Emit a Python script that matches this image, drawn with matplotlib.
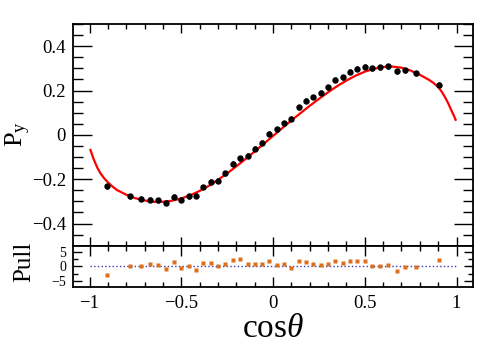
import numpy as np
import matplotlib
matplotlib.use('Agg')
import matplotlib.pyplot as plt
from matplotlib.ticker import MultipleLocator

#podaci - tocke (cos theta, P_y)
cos_x = [-0.905, -0.778, -0.722, -0.673, -0.629, -0.585, -0.542, -0.500, -0.459, -0.419,
         -0.379, -0.339, -0.299, -0.259, -0.219, -0.179, -0.139, -0.099, -0.060, -0.020,
         0.020, 0.060, 0.100, 0.140, 0.180, 0.220, 0.260, 0.300, 0.340, 0.380,
         0.420, 0.460, 0.500, 0.542, 0.585, 0.629, 0.673, 0.722, 0.778, 0.905]
py_vals = [-0.232, -0.277, -0.289, -0.292, -0.295, -0.306, -0.280, -0.292, -0.277, -0.274,
           -0.235, -0.212, -0.206, -0.174, -0.130, -0.105, -0.095, -0.062, -0.036, 0.005,
           0.025, 0.053, 0.072, 0.124, 0.153, 0.171, 0.190, 0.214, 0.249, 0.260,
           0.285, 0.299, 0.308, 0.300, 0.305, 0.310, 0.286, 0.292, 0.277, 0.226]
py_err = 0.011

#fit krivulja (ocitano sa slike)
fit_x = [-0.995, -0.98, -0.967, -0.955, -0.94, -0.92, -0.90, -0.875, -0.85, -0.80,
         -0.75, -0.70, -0.65, -0.60, -0.55, -0.50, -0.45, -0.40, -0.35, -0.30,
         -0.25, -0.20, -0.15, -0.10, -0.05, 0.0, 0.05, 0.10, 0.15, 0.20,
         0.25, 0.30, 0.35, 0.40, 0.45, 0.50, 0.55, 0.60, 0.65, 0.70,
         0.75, 0.80, 0.85, 0.875, 0.90, 0.92, 0.94, 0.955, 0.97, 0.985, 0.995]
fit_y = [-0.068, -0.104, -0.130, -0.152, -0.174, -0.196, -0.214, -0.233, -0.249, -0.270,
         -0.286, -0.296, -0.302, -0.302, -0.297, -0.287, -0.272, -0.253, -0.230, -0.203,
         -0.174, -0.142, -0.109, -0.075, -0.040, -0.005, 0.030, 0.065, 0.098, 0.131,
         0.162, 0.192, 0.220, 0.245, 0.267, 0.285, 0.298, 0.306, 0.308, 0.303,
         0.290, 0.271, 0.248, 0.234, 0.216, 0.194, 0.166, 0.142, 0.114, 0.088, 0.068]

#pull vrijednosti
pull = [-2.95, 0.0, 0.2, 0.7, 0.45, -0.8, 1.4, -0.45, 0.0, -1.1,
        1.0, 1.25, 0.0, 0.8, 2.3, 2.4, 0.7, 0.9, 0.7, 1.7,
        0.45, 0.7, -0.55, 1.7, 1.6, 0.8, 0.45, 0.7, 1.7, 1.1,
        1.8, 1.8, 1.7, 0.0, 0.0, 0.45, -1.7, -0.35, -0.35, 2.0]

plt.rcParams['font.family'] = ['Liberation Serif', 'DejaVu Serif']
plt.rcParams['mathtext.fontset'] = 'custom'
plt.rcParams['mathtext.rm'] = 'Liberation Serif'
plt.rcParams['mathtext.it'] = 'Liberation Serif:italic'

fig = plt.figure(figsize=(4.88, 3.51), dpi=100)
ax = fig.add_axes([0.1496, 0.300, 0.8197, 0.6316])
axp = fig.add_axes([0.1496, 0.1823, 0.8197, 0.1177])

#gornji panel
ax.plot(fit_x, fit_y, color='red', lw=1.6, zorder=2)
ax.errorbar(cos_x, py_vals, yerr=py_err, fmt='o', color='black', ms=4.6, mew=0,
            elinewidth=1.8, capsize=0, zorder=3)
ax.set_xlim(-1.09, 1.09)
ax.set_ylim(-0.5, 0.5)
ax.set_yticks([-0.4, -0.2, 0, 0.2, 0.4])
ax.set_yticklabels(['\u22120.4', '\u22120.2', '0', '0.2', '0.4'])
ax.yaxis.set_minor_locator(MultipleLocator(0.05))
ax.xaxis.set_major_locator(MultipleLocator(0.5))
ax.xaxis.set_minor_locator(MultipleLocator(0.1))
ax.tick_params(axis='x', which='major', direction='in', length=6.5, width=1, top=True, labelbottom=False)
ax.tick_params(axis='x', which='minor', direction='in', length=3.3, width=1, top=True)
ax.tick_params(axis='y', which='major', direction='in', length=14, width=1, right=True, labelsize=13.5, pad=5)
ax.tick_params(axis='y', which='minor', direction='in', length=7, width=1, right=True)

#donji panel - pull
axp.plot([-1, 1], [0, 0], color='#3a3ab0', ls=':', lw=1.0)
axp.plot(cos_x, pull, 's', color='#dd6f1c', ms=2.6, mec='none')
axp.set_xlim(-1.09, 1.09)
axp.set_ylim(-7, 7)
axp.set_yticks([-5, 0, 5])
axp.set_yticklabels(['\u22125', '0', '5'])
axp.yaxis.set_minor_locator(MultipleLocator(2.5))
axp.set_xticks([-1, -0.5, 0, 0.5, 1])
axp.set_xticklabels(['\u22121', '\u22120.5', '0', '0.5', '1'])
axp.xaxis.set_minor_locator(MultipleLocator(0.1))
axp.tick_params(axis='x', which='major', direction='in', length=7, width=1, top=True, labelsize=13.5, pad=6)
axp.tick_params(axis='x', which='minor', direction='in', length=3.5, width=1, top=True)
axp.tick_params(axis='y', which='major', direction='in', length=6.5, width=1, right=True, labelsize=10, pad=5)
axp.tick_params(axis='y', which='minor', direction='in', length=3.3, width=1, right=True)

for a in (ax, axp):
    for s in a.spines.values():
        s.set_linewidth(1.3)

#naslovi osi
fig.text(18 / 488, 1 - 134 / 351, r'P$_{\mathrm{y}}$', rotation=90, ha='center', va='center', fontsize=19)
fig.text(24 / 488, 1 - 262 / 351, 'Pull', rotation=90, ha='center', va='center', fontsize=18)
fig.text(273.5 / 488, 1 - 329 / 351, r'cos$\mathit{\theta}$', ha='center', va='center', fontsize=24)

fig.savefig('out.png', dpi=100)
